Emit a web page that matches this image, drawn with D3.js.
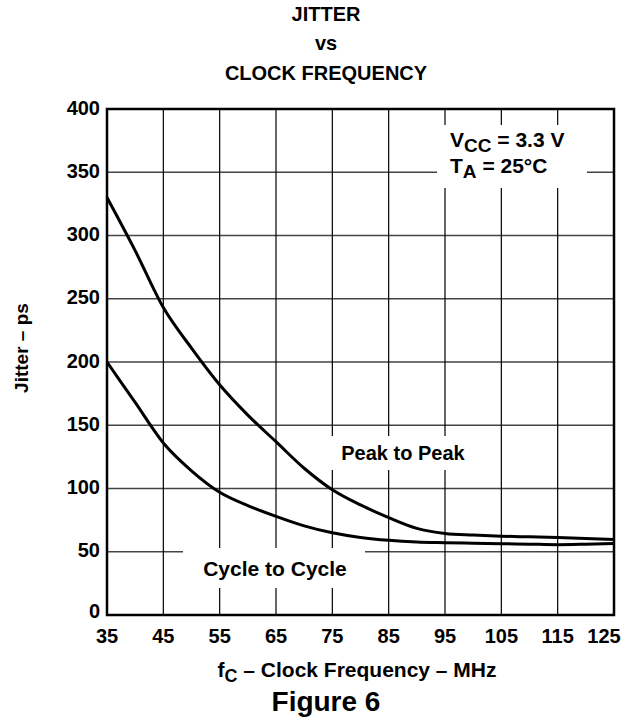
<!DOCTYPE html>
<html>
<head>
<meta charset="utf-8">
<script src="https://cdn.jsdelivr.net/npm/d3@7"></script>
<style>
  body { margin: 0; background: #fff; }
  text { font-family: "Liberation Sans", Arial, sans-serif; font-weight: bold; fill: #000; }
</style>
</head>
<body>
<div id="chart"></div>
<script>
// Data
const freq = [35, 40, 45, 50, 55, 60, 65, 70, 75, 80, 85, 90, 95, 100, 105, 110, 115, 120, 125];
const peakToPeak = [330, 288, 243, 211, 182, 158, 137, 116, 99, 87, 77, 68.5, 64.5, 63.2, 62.3, 61.8, 61.3, 60.5, 59.7];
const cycleToCycle = [200, 168, 136, 114, 97, 86.5, 78, 70.5, 65, 61.3, 59, 57.7, 57.2, 56.8, 56.4, 56, 55.6, 56, 56.6];
const xTicks = [35, 45, 55, 65, 75, 85, 95, 105, 115, 125];
const yTicks = [0, 50, 100, 150, 200, 250, 300, 350, 400];

const svg = d3.select("#chart").append("svg")
    .attr("width", 637)
    .attr("height", 723);

const plotL = 107, plotR = 614, plotT = 109, plotB = 615;

const x = d3.scaleLinear().domain([35, 125]).range([plotL, plotR]);
const y = d3.scaleLinear().domain([0, 400]).range([plotB, plotT]);

// title
const title = ["JITTER", "vs", "CLOCK FREQUENCY"];
const titleY = [21, 50, 80];
title.forEach((t, i) => {
    svg.append("text")
        .attr("x", 326)
        .attr("y", titleY[i])
        .attr("text-anchor", "middle")
        .style("font-size", "20px")
        .text(t);
});

// grid
svg.append("g").selectAll("line")
    .data(yTicks.slice(1, -1))
    .join("line")
    .attr("x1", plotL).attr("x2", plotR)
    .attr("y1", d => y(d)).attr("y2", d => y(d))
    .attr("stroke", "#444")
    .attr("stroke-width", 1.5);

svg.append("g").selectAll("line")
    .data(xTicks.slice(1, -1))
    .join("line")
    .attr("x1", d => x(d)).attr("x2", d => x(d))
    .attr("y1", plotT).attr("y2", plotB)
    .attr("stroke", "#000")
    .attr("stroke-width", 1.2);

// white boxes behind the labels (grid is broken there)
const boxes = [
    [437, 125, 150, 63],
    [325, 436, 155, 34],
    [183, 548, 182, 40]
];
svg.append("g").selectAll("rect")
    .data(boxes)
    .join("rect")
    .attr("x", d => d[0]).attr("y", d => d[1])
    .attr("width", d => d[2]).attr("height", d => d[3])
    .attr("fill", "#fff");

// frame
svg.append("rect")
    .attr("x", plotL).attr("y", plotT)
    .attr("width", plotR - plotL).attr("height", plotB - plotT)
    .attr("fill", "none")
    .attr("stroke", "#000")
    .attr("stroke-width", 2.5);

// curves
const line = d3.line()
    .x((d, i) => x(freq[i]))
    .y(d => y(d))
    .curve(d3.curveMonotoneX);

[peakToPeak, cycleToCycle].forEach(series => {
    svg.append("path")
        .datum(series)
        .attr("fill", "none")
        .attr("stroke", "#000")
        .attr("stroke-width", 3)
        .attr("stroke-linejoin", "round")
        .attr("d", line);
});

// tick labels
svg.append("g").selectAll("text")
    .data(yTicks)
    .join("text")
    .attr("x", 100)
    .attr("y", d => y(d) - (d === 0 ? 4 : 1.5))
    .attr("dy", "0.36em")
    .attr("text-anchor", "end")
    .style("font-size", "20px")
    .text(d => d);

svg.append("g").selectAll("text")
    .data(xTicks)
    .join("text")
    .attr("x", d => Math.min(x(d), 604))
    .attr("y", 643)
    .attr("text-anchor", "middle")
    .style("font-size", "20px")
    .text(d => d);

// axis titles
const xt = svg.append("text")
    .attr("x", 357)
    .attr("y", 677)
    .attr("text-anchor", "middle")
    .style("font-size", "21px");
xt.append("tspan").text("f");
xt.append("tspan").attr("dy", 5).style("font-size", "18px").text("C");
xt.append("tspan").attr("dy", -5).text(" \u2013 Clock Frequency \u2013 MHz");

svg.append("text")
    .attr("transform", "translate(28,348) rotate(-90)")
    .attr("text-anchor", "middle")
    .style("font-size", "19px")
    .text("Jitter \u2013 ps");

svg.append("text")
    .attr("x", 326)
    .attr("y", 711)
    .attr("text-anchor", "middle")
    .style("font-size", "28px")
    .text("Figure 6");

// annotations
const vcc = svg.append("text").attr("x", 450).attr("y", 147).style("font-size", "21px");
vcc.append("tspan").text("V");
vcc.append("tspan").attr("dy", 5).style("font-size", "19px").text("CC");
vcc.append("tspan").attr("dy", -5).text(" = 3.3 V");

const ta = svg.append("text").attr("x", 450).attr("y", 173).style("font-size", "21px");
ta.append("tspan").text("T");
ta.append("tspan").attr("dy", 5).style("font-size", "19px").text("A");
ta.append("tspan").attr("dy", -5).text(" = 25\u00b0C");

svg.append("text")
    .attr("x", 403).attr("y", 460)
    .attr("text-anchor", "middle")
    .style("font-size", "20px")
    .text("Peak to Peak");

svg.append("text")
    .attr("x", 275).attr("y", 576)
    .attr("text-anchor", "middle")
    .style("font-size", "21px")
    .text("Cycle to Cycle");
</script>
</body>
</html>
